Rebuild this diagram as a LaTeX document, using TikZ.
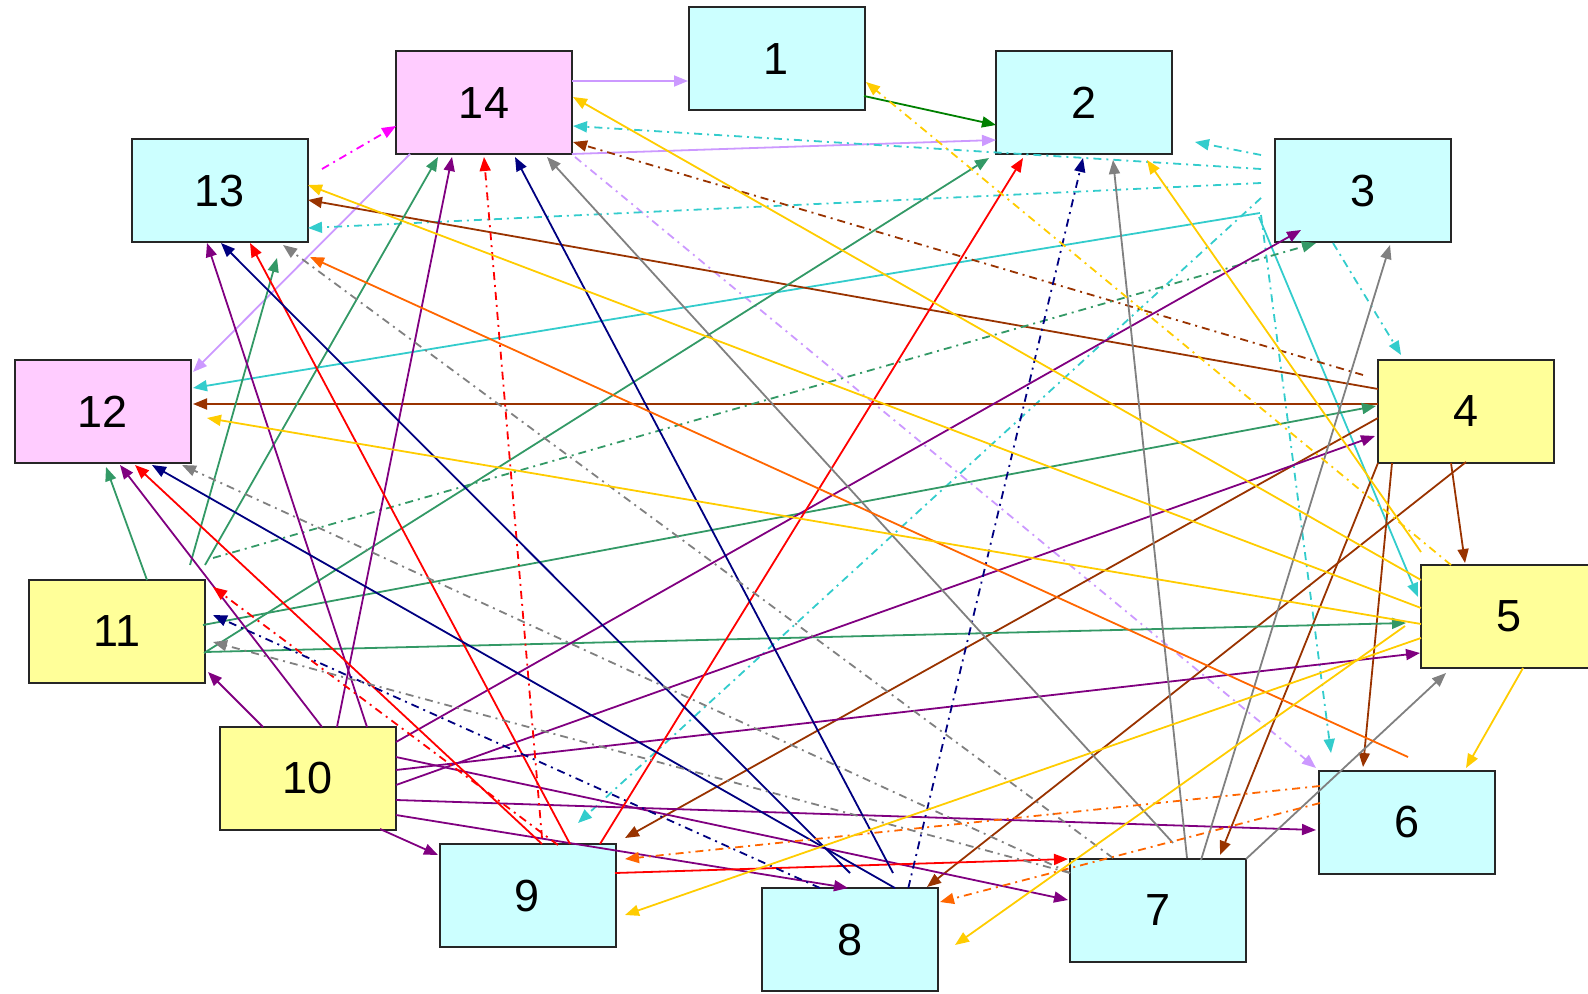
\documentclass[tikz,border=0pt]{standalone}
\usepackage{fontspec}
\setmainfont{Liberation Sans}
\usetikzlibrary{arrows.meta}
\definecolor{cfill}{HTML}{CCFFFF}
\definecolor{yfill}{HTML}{FFFF99}
\definecolor{pfill}{HTML}{FFCCFF}
\definecolor{lav}{HTML}{CC99FF}
\definecolor{dgreen}{HTML}{008000}
\definecolor{sgreen}{HTML}{339966}
\definecolor{cyn}{HTML}{33CCCC}
\definecolor{brn}{HTML}{993300}
\definecolor{pur}{HTML}{800080}
\definecolor{rd}{HTML}{FF0000}
\definecolor{nvy}{HTML}{000080}
\definecolor{gry}{HTML}{808080}
\definecolor{org}{HTML}{FF6600}
\definecolor{ylw}{HTML}{FFCC00}
\definecolor{mag}{HTML}{FF00FF}
\tikzset{
  box/.style={draw=black!85, line width=1pt, minimum width=88pt, minimum height=51.5pt, inner sep=0pt, font=\fontsize{22.5}{26}\selectfont},
  bc/.style={box, fill=cfill},
  by/.style={box, fill=yfill},
  bp/.style={box, fill=pfill},
  ea/.style={line width=0.9pt, -{Triangle[length=7pt,width=5.5pt]}},
  dd/.style={ea, dash pattern=on 4pt off 2.5pt on 1pt off 2.5pt},
}
\begin{document}
\begin{tikzpicture}[x=0.5pt,y=-0.5pt]
\useasboundingbox (0,0) rectangle (1588,994);
% nodes
\node[bc] (n1) at (776.5,59) {1};
\node[bc] (n2) at (1084,103) {2};
\node[bc] (n3) at (1363,191) {3};
\node[by] (n4) at (1465.5,411.5) {4};
\node[by] (n5) at (1509,616) {5};
\node[bc] (n6) at (1406.5,822.5) {6};
\node[bc] (n7) at (1157.5,910.5) {7};
\node[bc] (n8) at (850,939.5) {8};
\node[bc] (n9) at (527.5,895.5) {9};
\node[by] (n10) at (307.5,778.5) {10};
\node[by] (n11) at (117,631.5) {11};
\node[bp] (n12) at (102.5,411.5) {12};
\node[bc] (n13) at (220,191) {13};
\node[bp] (n14) at (484,103) {14};
% from 14 (lavender)
\draw[ea,lav] ([shift={(88,-22)}]n14.center) -- ([shift={(-88.5,22)}]n1.center);
\draw[ea,lav] ([shift={(88,51)}]n14.center) -- ([shift={(-88,37)}]n2.center);
\draw[ea,lav] ([shift={(-74,51)}]n14.center) -- ([shift={(90.5,-39.5)}]n12.center);
\draw[dd,lav] ([shift={(91,54)}]n14.center) -- ([shift={(-90.5,-54.5)}]n6.center);
% 13 -> 14
\draw[dd,mag] ([shift={(102,-22)}]n13.center) -- ([shift={(-88,23)}]n14.center);
% 1 -> 2
\draw[ea,dgreen] ([shift={(87.5,37)}]n1.center) -- ([shift={(-88,22)}]n2.center);
% from 3 (cyan)
\draw[dd,cyn] ([shift={(-102,-36)}]n3.center) -- ([shift={(111,39)}]n2.center);
\draw[dd,cyn] ([shift={(-102,-22)}]n3.center) -- ([shift={(89,23)}]n14.center);
\draw[dd,cyn] ([shift={(-102,-8)}]n3.center) -- ([shift={(88,37)}]n13.center);
\draw[dd,cyn] ([shift={(-102,7)}]n3.center) -- ([shift={(50.5,-72.5)}]n9.center);
\draw[ea,cyn] ([shift={(-103,22)}]n3.center) -- ([shift={(90.5,-23.5)}]n12.center);
\draw[ea,cyn] ([shift={(-104,26)}]n3.center) -- ([shift={(-91,-19)}]n5.center);
\draw[dd,cyn] ([shift={(-102,24)}]n3.center) -- ([shift={(-75.5,-69.5)}]n6.center);
\draw[dd,cyn] ([shift={(-30,52)}]n3.center) -- ([shift={(-64.5,-56.5)}]n4.center);
% from 4 (brown)
\draw[dd,brn] ([shift={(-102.5,-36.5)}]n4.center) -- ([shift={(89,39)}]n14.center);
\draw[ea,brn] ([shift={(-87.5,-22.5)}]n4.center) -- ([shift={(88,9)}]n13.center);
\draw[ea,brn] ([shift={(-87.5,-7.5)}]n4.center) -- ([shift={(90.5,-7.5)}]n12.center);
\draw[ea,brn] ([shift={(-87.5,6.5)}]n4.center) -- ([shift={(97.5,-57.5)}]n9.center);
\draw[ea,brn] ([shift={(-14.5,51.5)}]n4.center) -- ([shift={(-44,-53)}]n5.center);
\draw[ea,brn] ([shift={(-73.5,51.5)}]n4.center) -- ([shift={(-43.5,-55.5)}]n6.center);
\draw[ea,brn] ([shift={(-87.5,51.5)}]n4.center) -- ([shift={(62.5,-55.5)}]n7.center);
\draw[ea,brn] ([shift={(0.5,50.5)}]n4.center) -- ([shift={(77,-52.5)}]n8.center);
% from 11 (sea green)
\draw[ea,sgreen] ([shift={(30,-51.5)}]n11.center) -- ([shift={(3.5,55.5)}]n12.center);
\draw[ea,sgreen] ([shift={(73,-66.5)}]n11.center) -- ([shift={(57,67)}]n13.center);
\draw[ea,sgreen] ([shift={(88,-66.5)}]n11.center) -- ([shift={(-46,54)}]n14.center);
\draw[dd,sgreen] ([shift={(96,-73.5)}]n11.center) -- ([shift={(-47,52)}]n3.center);
\draw[ea,sgreen] ([shift={(86,-6.5)}]n11.center) -- ([shift={(-89.5,-5.5)}]n4.center);
\draw[ea,sgreen] ([shift={(87,21.5)}]n11.center) -- ([shift={(-95,55)}]n2.center);
\draw[ea,sgreen] ([shift={(88,20.5)}]n11.center) -- ([shift={(-103,7)}]n5.center);
% from 10 (purple)
\draw[ea,pur] ([shift={(-44.5,-51.5)}]n10.center) -- ([shift={(91,40.5)}]n11.center);
\draw[ea,pur] ([shift={(14.5,-51.5)}]n10.center) -- ([shift={(17.5,53.5)}]n12.center);
\draw[ea,pur] ([shift={(29.5,-51.5)}]n10.center) -- ([shift={(-32,54)}]n14.center);
\draw[ea,pur] ([shift={(59.5,-51.5)}]n10.center) -- ([shift={(-13,52)}]n13.center);
\draw[ea,pur] ([shift={(88.5,-36.5)}]n10.center) -- ([shift={(-62,39)}]n3.center);
\draw[ea,pur] ([shift={(88.5,-21.5)}]n10.center) -- ([shift={(-89.5,-10.5)}]n7.center);
\draw[ea,pur] ([shift={(88.5,-8.5)}]n10.center) -- ([shift={(-89,37)}]n5.center);
\draw[ea,pur] ([shift={(88.5,6.5)}]n10.center) -- ([shift={(-90.5,24.5)}]n4.center);
\draw[ea,pur] ([shift={(88.5,21.5)}]n10.center) -- ([shift={(-90.5,7.5)}]n6.center);
\draw[ea,pur] ([shift={(88.5,36.5)}]n10.center) -- ([shift={(-2,-51.5)}]n8.center);
\draw[ea,pur] ([shift={(72.5,50.5)}]n10.center) -- ([shift={(-89.5,-40.5)}]n9.center);
% from 9 (red)
\draw[ea,rd] ([shift={(14.5,-51.5)}]n9.center) -- ([shift={(32.5,53.5)}]n12.center);
\draw[ea,rd] ([shift={(42.5,-51.5)}]n9.center) -- ([shift={(30,52)}]n13.center);
\draw[ea,rd] ([shift={(72.5,-51.5)}]n9.center) -- ([shift={(-61,55)}]n2.center);
\draw[dd,rd] ([shift={(14.5,-57.5)}]n9.center) -- ([shift={(0,54)}]n14.center);
\draw[dd,rd] ([shift={(30.5,-50.5)}]n9.center) -- ([shift={(96,-44.5)}]n11.center);
\draw[ea,rd] ([shift={(87.5,-22.5)}]n9.center) -- ([shift={(-89.5,-51.5)}]n7.center);
% from 8 (navy)
\draw[dd,nvy] ([shift={(58.3,-51.5)}]n8.center) -- ([shift={(-1,55)}]n2.center);
\draw[ea,nvy] ([shift={(43,-66.5)}]n8.center) -- ([shift={(31,54)}]n14.center);
\draw[ea,nvy] ([shift={(0,-66.5)}]n8.center) -- ([shift={(1,52)}]n13.center);
\draw[ea,nvy] ([shift={(45,-51.5)}]n8.center) -- ([shift={(49.5,53.5)}]n12.center);
\draw[dd,nvy] ([shift={(-30,-51.5)}]n8.center) -- ([shift={(96,-16.5)}]n11.center);
% from 7 (gray)
\draw[ea,gry] ([shift={(15.5,-67.5)}]n7.center) -- ([shift={(63,54)}]n14.center);
\draw[ea,gry] ([shift={(29.5,-52.5)}]n7.center) -- ([shift={(29,57)}]n2.center);
\draw[ea,gry] ([shift={(43.5,-50.5)}]n7.center) -- ([shift={(27,54)}]n3.center);
\draw[ea,gry] ([shift={(88.5,-51.5)}]n7.center) -- ([shift={(-63,57)}]n5.center);
\draw[dd,gry] ([shift={(-44.5,-52.5)}]n7.center) -- ([shift={(63,54)}]n13.center);
\draw[dd,gry] ([shift={(-87.5,-37.5)}]n7.center) -- ([shift={(79.5,53.5)}]n12.center);
\draw[dd,gry] ([shift={(-87.5,-37.5)}]n7.center) -- ([shift={(96,10.5)}]n11.center);
% from 6 (orange)
\draw[ea,org] ([shift={(1.5,-65.5)}]n6.center) -- ([shift={(90,66)}]n13.center);
\draw[dd,org] ([shift={(-86.5,-36.5)}]n6.center) -- ([shift={(97.5,-36.5)}]n9.center);
\draw[dd,org] ([shift={(-86.5,-19.5)}]n6.center) -- ([shift={(90,-37.5)}]n8.center);
% from 5 (yellow)
\draw[ea,ylw] ([shift={(-88,-36)}]n5.center) -- ([shift={(89,-6)}]n14.center);
\draw[ea,ylw] ([shift={(-88,-8)}]n5.center) -- ([shift={(88,-6)}]n13.center);
\draw[ea,ylw] ([shift={(-88,8)}]n5.center) -- ([shift={(104.5,6.5)}]n12.center);
\draw[ea,ylw] ([shift={(-88,-64)}]n5.center) -- ([shift={(63,57)}]n2.center);
\draw[dd,ylw] ([shift={(-58,-51)}]n5.center) -- ([shift={(89.5,23)}]n1.center);
\draw[ea,ylw] ([shift={(14,52)}]n5.center) -- ([shift={(59.5,-54.5)}]n6.center);
\draw[ea,ylw] ([shift={(-88,22)}]n5.center) -- ([shift={(97.5,19.5)}]n9.center);
\draw[ea,ylw] ([shift={(-104,10)}]n5.center) -- ([shift={(105,5.5)}]n8.center);
\end{tikzpicture}
\end{document}
